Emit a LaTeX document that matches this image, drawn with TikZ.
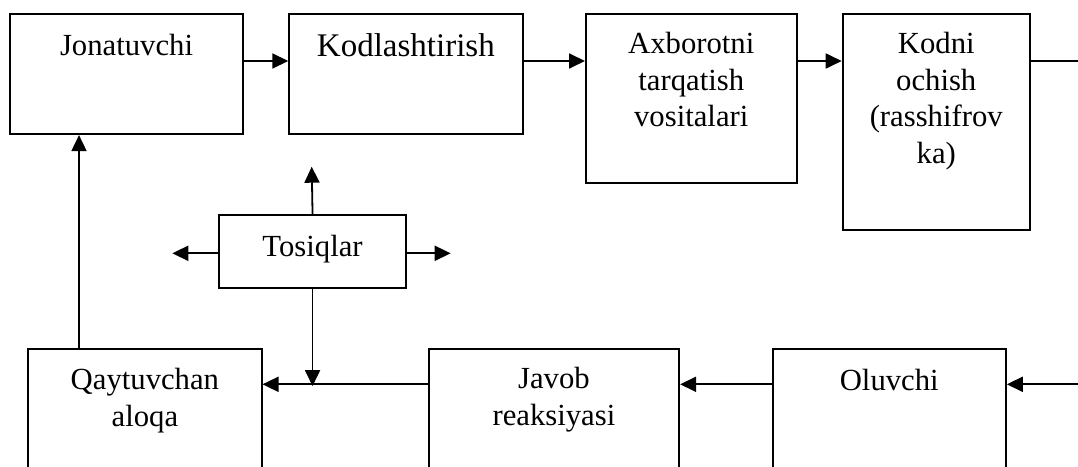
\documentclass[tikz,border=0pt]{standalone}
\usepackage{fontspec}
\setmainfont{Liberation Serif}
\usetikzlibrary{arrows.meta,calc}
\newcommand\firstbase[1]{\rule{0pt}{#1}}
\begin{document}
\begin{tikzpicture}[x=1pt,y=-1pt,
  box/.style={draw, line width=1.8pt, rectangle, inner sep=0pt, anchor=north west},
  txt/.style={anchor=north, inner sep=0pt, align=center, font=\fontsize{30.7pt}{36.7pt}\selectfont},
  ln/.style={line width=1.8pt},
  arr/.style={line width=1.8pt, -{Triangle[length=16pt 0,width=15pt 0]}}]
\clip (0,0) rectangle (1078,466);
% boxes
\node[box, minimum width=233.3pt, minimum height=120pt] (j) at (9,13.3) {};
\node[box, minimum width=233.4pt, minimum height=120pt] (k) at (288.3,13.3) {};
\node[box, minimum width=210.7pt, minimum height=168.4pt] (a) at (585,13.3) {};
\node[box, minimum width=187.3pt, minimum height=216pt] (d) at (841.7,13.3) {};
\node[box, minimum width=186.7pt, minimum height=72.4pt] (t) at (218.3,214.3) {};
\node[box, minimum width=233.4pt, minimum height=140pt] (q) at (27.3,348.3) {};
\node[box, minimum width=250.6pt, minimum height=140pt] (r) at (427.7,348.3) {};
\node[box, minimum width=233.3pt, minimum height=140pt] (o) at (771.7,348.3) {};
% texts
\node[txt] (jt) at (j.north) {\firstbase{41.7pt}Jonatuvchi};
\node[txt, font=\fontsize{33pt}{39pt}\selectfont] (kt) at (k.north) {\firstbase{43.4pt}Kodlashtirish};
\node[txt] (at) at (a.north) {\firstbase{40pt}Axborotni\\tarqatish\\vositalari};
\node[txt] (dt) at (d.north) {\firstbase{40pt}Kodni\\ochish\\(rasshifrov\\ka)};
\node[txt] (tt) at (t.north) {\firstbase{41.7pt}Tosiqlar};
\node[txt] (qt) at (q.north) {\firstbase{41pt}Qaytuvchan\\aloqa};
\node[txt] (rt) at (r.north) {\firstbase{40pt}Javob\\reaksiyasi};
\node[txt] (ot) at (o.north) {\firstbase{41.7pt}Oluvchi};
% free ends
\coordinate (topout) at (1080,61);
\coordinate (botin) at (1080,384.3);
\coordinate (tup) at (311.7,166.7);
\coordinate (tleft) at (172.3,253.3);
\coordinate (tright) at (450.7,253.3);
% top row connectors
\draw[arr] ($(j.north east)+(0,47.7)$) -- ($(k.north west)+(0,47.7)$);
\draw[arr] ($(k.north east)+(0,47.7)$) -- ($(a.north west)+(0,47.7)$);
\draw[arr] ($(a.north east)+(0,47.7)$) -- ($(d.north west)+(0,47.7)$);
\draw[ln] ($(d.north east)+(0,47.7)$) -- (topout);
% bottom row connectors
\draw[arr] (botin) -- ($(o.north east)+(0,36)$);
\draw[arr] ($(o.north west)+(0,36)$) -- ($(r.north east)+(0,36)$);
\draw[arr] ($(r.north west)+(0,36)$) -- ($(q.north east)+(0,36)$);
% feedback up
\draw[arr] ($(q.north west)+(51.7,0)$) -- ($(j.south west)+(70,0)$);
% Tosiqlar arrows
\draw[arr] (t.north) -- (tup);
\draw[arr] ($(t.north west)+(0,39)$) -- (tleft);
\draw[arr] ($(t.north east)+(0,39)$) -- (tright);
\draw[arr] (t.south) -- ($(t.south)+(0,97.6)$);
\end{tikzpicture}
\end{document}
